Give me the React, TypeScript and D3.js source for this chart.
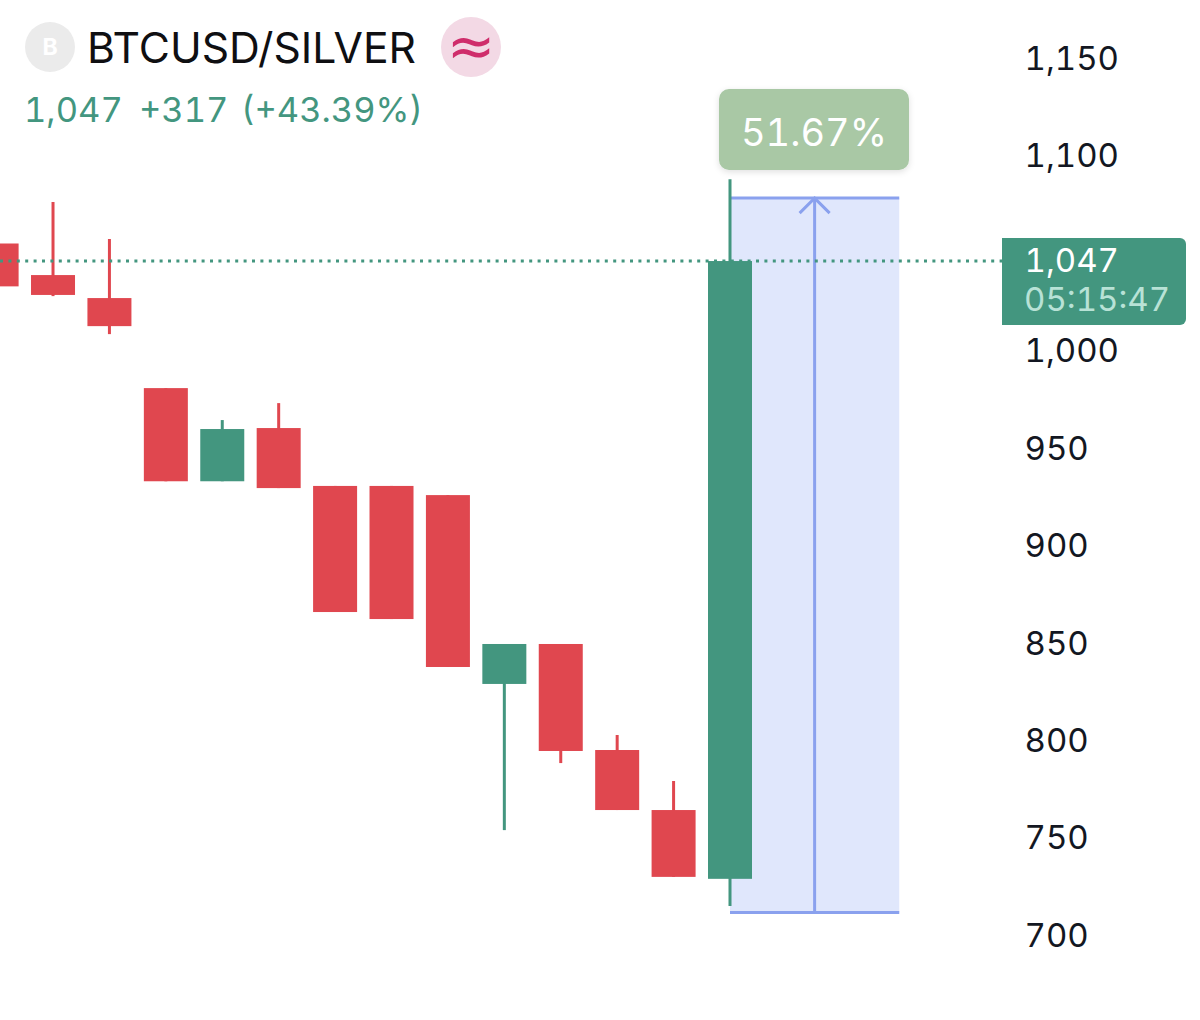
// BTCUSD/SILVER candles with a price-range measure tool
import { select, scaleLinear, axisRight, format, range } from 'd3';
import { useEffect, useRef } from 'react';

const opens = [1056, 1039.8, 1028, 981.8, 934, 961.3, 931.6, 931.6, 926.9, 830, 850.5, 796.1, 765.3, 730];
const closes = [1034, 1029.6, 1013.6, 934, 960.8, 930.5, 866.9, 863.3, 838.7, 850.5, 795.6, 765.3, 731, 1047];
const highs = [1056, 1077.3, 1058.3, 981.8, 965.4, 974.1, 931.6, 931.6, 926.9, 850.5, 850.5, 803.8, 780.2, 1089];
const lows = [1034, 1029, 1009.5, 934, 934, 930.5, 866.9, 863.3, 838.7, 755, 789.4, 765.3, 731, 716];
const priceTicks = [700, 750, 800, 850, 900, 950, 1000, 1100, 1150];

const symbol = 'BTCUSD/SILVER';
const quoteParts = ['1,047', '+317', '(+43.39%)'];
const lastPrice = 1047;
const lastPriceLabel = '1,047';
const countdown = '05:15:47';
const measureFrom = 712.7;
const measureTo = 1079.3;
const measureStart = 13;
const measureEnd = 16;
const measureLabel = '51.67%';

const GREEN = '#43967f';
const RED = '#e0474f';
const BLUE = '#8aa1ee';
const FONT = 'Inter, "Noto Sans", sans-serif';

export default function App() {
  const svgRef = useRef<SVGSVGElement | null>(null);

  useEffect(() => {
    if (!svgRef.current) return;
    const svg = select(svgRef.current);
    svg.selectAll('*').remove();

    const x = scaleLinear().domain([0, 13]).range([-3.4, 730]);
    const y = scaleLinear().domain([700, 1150]).range([937.3, 60.3]);
    const bodyWidth = 44;
    const candles = range(opens.length);
    const color = (i: number) => (closes[i] >= opens[i] ? GREEN : RED);

    // measure tool
    const measure = svg.append('g');
    const mx = x((measureStart + measureEnd) / 2);
    measure.append('rect')
      .attr('x', x(measureStart))
      .attr('y', y(measureTo))
      .attr('width', x(measureEnd) - x(measureStart))
      .attr('height', y(measureFrom) - y(measureTo))
      .attr('fill', '#e0e7fc');
    [measureFrom, measureTo].forEach((v) => {
      measure.append('line')
        .attr('x1', x(measureStart))
        .attr('x2', x(measureEnd))
        .attr('y1', y(v))
        .attr('y2', y(v))
        .attr('stroke', BLUE)
        .attr('stroke-width', 3);
    });
    measure.append('line')
      .attr('x1', mx)
      .attr('x2', mx)
      .attr('y1', y(measureFrom))
      .attr('y2', y(measureTo))
      .attr('stroke', BLUE)
      .attr('stroke-width', 3);
    measure.append('path')
      .attr('d', `M${mx - 15},${y(measureTo) + 15}L${mx},${y(measureTo)}L${mx + 15},${y(measureTo) + 15}`)
      .attr('fill', 'none')
      .attr('stroke', BLUE)
      .attr('stroke-width', 3);

    // candles
    svg.append('g').selectAll('line')
      .data(candles)
      .join('line')
      .attr('x1', (i) => x(i))
      .attr('x2', (i) => x(i))
      .attr('y1', (i) => y(highs[i]))
      .attr('y2', (i) => y(lows[i]))
      .attr('stroke', color)
      .attr('stroke-width', 3);

    svg.append('g').selectAll('rect')
      .data(candles)
      .join('rect')
      .attr('x', (i) => x(i) - bodyWidth / 2)
      .attr('y', (i) => y(Math.max(opens[i], closes[i])))
      .attr('width', bodyWidth)
      .attr('height', (i) => Math.abs(y(opens[i]) - y(closes[i])))
      .attr('fill', color);

    // last price line
    svg.append('line')
      .attr('x1', 0)
      .attr('x2', 1002)
      .attr('y1', y(lastPrice))
      .attr('y2', y(lastPrice))
      .attr('stroke', GREEN)
      .attr('stroke-width', 3)
      .attr('stroke-dasharray', '3 5.4');

    // price axis
    const axis = svg.append('g')
      .attr('transform', 'translate(1024.5,-1.5)')
      .call(axisRight(y).tickValues(priceTicks).tickSize(0).tickPadding(0).tickFormat((d) => format(',d')(d as number)));
    axis.select('.domain').remove();
    axis.selectAll('text')
      .attr('font-family', FONT)
      .attr('font-size', 33)
      .attr('fill', '#131722')
      .style('font-variant-numeric', 'tabular-nums');

    // last price tag
    svg.append('path')
      .attr('d', 'M1002,238H1180a6,6 0 0 1 6,6V319a6,6 0 0 1 -6,6H1002Z')
      .attr('fill', GREEN);
    svg.append('text')
      .attr('x', 1024.5)
      .attr('y', 272)
      .attr('font-family', FONT)
      .attr('font-size', 33)
      .attr('fill', '#fff')
      .style('font-variant-numeric', 'tabular-nums')
      .text(lastPriceLabel);
    svg.append('text')
      .attr('x', 1024)
      .attr('y', 311)
      .attr('font-family', FONT)
      .attr('font-size', 33)
      .attr('fill', '#b8e2d6')
      .style('font-variant-numeric', 'tabular-nums')
      .text(countdown);

    // measure label
    const filter = svg.append('defs').append('filter')
      .attr('id', 'label-shadow')
      .attr('x', '-10%')
      .attr('y', '-20%')
      .attr('width', '120%')
      .attr('height', '150%');
    filter.append('feDropShadow')
      .attr('dx', 0)
      .attr('dy', 2)
      .attr('stdDeviation', 3)
      .attr('flood-color', '#000')
      .attr('flood-opacity', 0.12);
    svg.append('rect')
      .attr('x', 719)
      .attr('y', 89)
      .attr('width', 190)
      .attr('height', 81)
      .attr('rx', 10)
      .attr('fill', '#a9c8a5')
      .attr('filter', 'url(#label-shadow)');
    svg.append('text')
      .attr('x', 814)
      .attr('y', 146)
      .attr('text-anchor', 'middle')
      .attr('font-family', FONT)
      .attr('font-size', 38)
      .attr('fill', '#fff')
      .style('font-variant-numeric', 'tabular-nums')
      .text(measureLabel);

    // header
    svg.append('circle').attr('cx', 50).attr('cy', 47).attr('r', 25).attr('fill', '#ebebeb');
    svg.append('text')
      .attr('x', 50)
      .attr('y', 55)
      .attr('text-anchor', 'middle')
      .attr('font-family', FONT)
      .attr('font-size', 23)
      .attr('font-weight', 700)
      .attr('fill', '#fff')
      .text('B');
    svg.append('text')
      .attr('x', 87)
      .attr('y', 63)
      .attr('font-family', FONT)
      .attr('font-size', 42)
      .attr('fill', '#0f0f12')
      .attr('textLength', 329)
      .attr('lengthAdjust', 'spacingAndGlyphs')
      .text(symbol);
    svg.append('circle').attr('cx', 471).attr('cy', 47).attr('r', 30).attr('fill', '#f3d9e5');
    svg.append('text')
      .attr('x', 471)
      .attr('y', 66)
      .attr('text-anchor', 'middle')
      .attr('font-family', '"DejaVu Sans", sans-serif')
      .attr('font-size', 58)
      .attr('fill', '#cf2d6b')
      .text('≈');
    const quoteX = [24, 139, 241];
    quoteParts.forEach((part, i) => {
      svg.append('text')
        .attr('x', quoteX[i])
        .attr('y', 122)
        .attr('font-family', FONT)
        .attr('font-size', 34.5)
        .attr('fill', GREEN)
        .style('font-variant-numeric', 'tabular-nums')
        .text(part);
    });
  }, []);

  return (
    <svg
      ref={svgRef}
      width={1200}
      height={1020}
      style={{ position: 'absolute', left: 0, top: 0, background: '#fff' }}
    />
  );
}
